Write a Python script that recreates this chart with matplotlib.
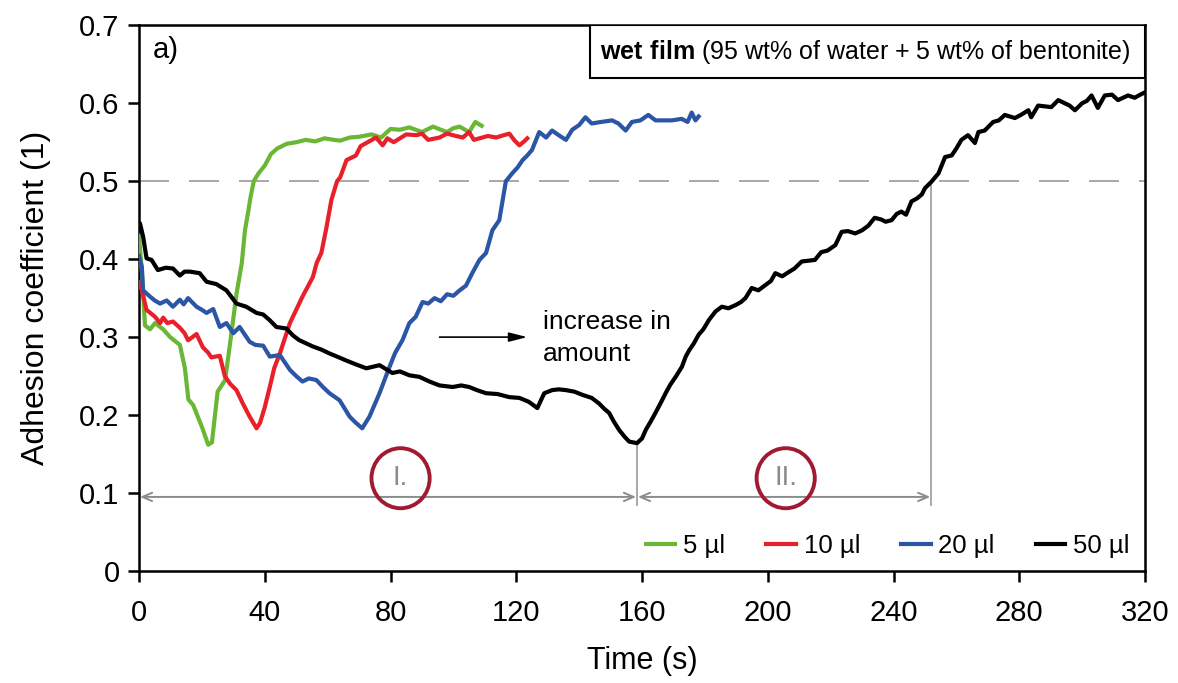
import numpy as np
import matplotlib
matplotlib.use('Agg')
import matplotlib.pyplot as plt
from matplotlib import font_manager
from matplotlib.patches import Ellipse, Rectangle

# --- data (time s, adhesion coefficient) ---
green_5ul = np.array([
    (0, 0.43), (0.9, 0.385), (1.9, 0.315), (3.5, 0.31), (5.1, 0.318), (7.7, 0.31),
    (9.9, 0.3), (13, 0.29), (14.6, 0.26), (15.7, 0.22), (17.2, 0.213), (20, 0.185),
    (22, 0.162), (23.2, 0.165), (25, 0.23), (27.4, 0.245), (29, 0.293), (31, 0.355),
    (32.7, 0.395), (33.7, 0.437), (34.7, 0.46), (35.5, 0.48), (36.5, 0.5), (38, 0.51),
    (40, 0.52), (42, 0.535), (44, 0.542), (47, 0.548), (50, 0.55), (53, 0.553),
    (56, 0.551), (59, 0.555), (62, 0.553), (64, 0.552), (67, 0.556), (70, 0.557),
    (74, 0.56), (77, 0.556), (80, 0.567), (83, 0.566), (86, 0.569), (90, 0.563),
    (93.5, 0.57), (96, 0.566), (98, 0.563), (100, 0.568), (102, 0.57), (105, 0.563),
    (107, 0.576), (109, 0.571)])

red_10ul = np.array([
    (0, 0.37), (0.9, 0.36), (2.4, 0.335), (5.1, 0.326), (6.7, 0.318), (7.7, 0.325),
    (9, 0.318), (10.8, 0.32), (13, 0.312), (14.5, 0.305), (15.6, 0.296), (17, 0.3),
    (18.3, 0.304), (20.3, 0.287), (22, 0.28), (23, 0.274), (25.7, 0.276), (27.3, 0.25),
    (29, 0.24), (31, 0.232), (33, 0.215), (35.2, 0.198), (37.4, 0.183), (38.5, 0.19),
    (40, 0.21), (41.6, 0.236), (43, 0.26), (44.8, 0.279), (48, 0.318), (50, 0.335),
    (52, 0.352), (55.3, 0.377), (56.5, 0.395), (58, 0.408), (59.6, 0.44), (61.2, 0.476),
    (63, 0.5), (64, 0.505), (66, 0.527), (67.5, 0.53), (69, 0.533), (70.5, 0.545),
    (72.3, 0.549), (75.4, 0.556), (77.5, 0.546), (79, 0.555), (81, 0.55), (83, 0.555),
    (85, 0.56), (88.3, 0.559), (90, 0.561), (92, 0.553), (95.6, 0.556), (98, 0.561),
    (100.8, 0.558), (103, 0.556), (105, 0.563), (106.5, 0.553), (108.3, 0.555),
    (111, 0.558), (113.6, 0.556), (116, 0.559), (117.8, 0.561), (119.5, 0.552),
    (121, 0.546), (122.5, 0.551), (123.5, 0.555)])

blue_20ul = np.array([
    (0, 0.404), (0.9, 0.39), (1.3, 0.36), (3.5, 0.352), (5, 0.347), (6.7, 0.343),
    (8.8, 0.347), (10.8, 0.339), (13, 0.348), (14.2, 0.342), (15.6, 0.35), (18.3, 0.339),
    (20, 0.335), (21.5, 0.331), (23.6, 0.336), (25.7, 0.313), (27.8, 0.318), (30, 0.305),
    (32, 0.313), (35.2, 0.294), (37, 0.29), (39.5, 0.289), (41.6, 0.275), (44.8, 0.277),
    (48, 0.258), (50, 0.25), (52, 0.243), (54, 0.247), (56.4, 0.245), (58.5, 0.236),
    (60.6, 0.228), (63.8, 0.219), (67, 0.198), (69, 0.19), (71, 0.183), (73.3, 0.198),
    (76.5, 0.228), (79.7, 0.262), (81.5, 0.28), (83.8, 0.296), (86, 0.318), (88, 0.326),
    (90.2, 0.345), (92, 0.343), (94, 0.35), (96, 0.346), (98, 0.355), (100, 0.353),
    (102, 0.36), (104, 0.366), (106, 0.382), (108.3, 0.399), (110.4, 0.408),
    (112.4, 0.437), (114.6, 0.45), (116.7, 0.5), (118.7, 0.51), (120.5, 0.518),
    (122, 0.527), (123.5, 0.533), (125, 0.54), (127.3, 0.563), (129.5, 0.556),
    (131.4, 0.565), (133.5, 0.559), (135.8, 0.553), (137.8, 0.566), (140, 0.572),
    (142, 0.582), (144, 0.574), (147, 0.576), (150.5, 0.578), (152.5, 0.574),
    (154.8, 0.565), (156.8, 0.576), (159.5, 0.578), (162, 0.585), (164.3, 0.578),
    (167, 0.578), (169.5, 0.578), (172.6, 0.58), (174.5, 0.576), (175.8, 0.588),
    (177, 0.578), (178, 0.583)])

black_50ul = np.array([
    (0, 0.44), (0.3, 0.446), (1.3, 0.429), (2.4, 0.401), (4, 0.399), (6, 0.386),
    (8.5, 0.389), (10.8, 0.388), (13, 0.379), (14.5, 0.384), (16.2, 0.384), (19.3, 0.382),
    (21.5, 0.371), (24.6, 0.368), (27.8, 0.36), (31, 0.343), (34.1, 0.339), (37.4, 0.331),
    (39.5, 0.329), (41.5, 0.322), (43.7, 0.313), (46.9, 0.311), (49, 0.302), (51, 0.296),
    (55.3, 0.288), (58, 0.284), (60.6, 0.279), (63, 0.275), (65.9, 0.27), (69, 0.265),
    (72.3, 0.26), (76.5, 0.264), (80.6, 0.254), (83, 0.256), (86, 0.251), (89.2, 0.249),
    (92.4, 0.243), (95.6, 0.238), (99.8, 0.236), (102.5, 0.238), (105, 0.236),
    (107.5, 0.232), (110.4, 0.228), (114, 0.227), (117.8, 0.223), (121, 0.222),
    (124, 0.217), (126.7, 0.209), (128.9, 0.228), (131.4, 0.232), (133.5, 0.233),
    (135.8, 0.232), (138.5, 0.23), (141, 0.226), (144, 0.222), (146.3, 0.215),
    (148, 0.208), (149.5, 0.203), (151, 0.192), (152.7, 0.181), (154.5, 0.172),
    (155.9, 0.166), (158.4, 0.164), (160, 0.17), (161.2, 0.181), (162.8, 0.192),
    (164.3, 0.203), (166, 0.216), (167.5, 0.228), (169, 0.239), (170.7, 0.249),
    (172.7, 0.262), (173.9, 0.275), (175, 0.283), (176.5, 0.292), (178, 0.303),
    (179.5, 0.31), (181.3, 0.322), (183.4, 0.333), (185.4, 0.339), (187.5, 0.337),
    (189.7, 0.341), (191.5, 0.345), (192.9, 0.35), (194.9, 0.363), (197, 0.36),
    (199.3, 0.367), (201, 0.372), (202.4, 0.382), (204.6, 0.378), (206.5, 0.383),
    (208.5, 0.388), (210.8, 0.397), (213, 0.398), (215, 0.399), (217, 0.409),
    (219, 0.411), (221.5, 0.418), (223.5, 0.435), (225.5, 0.436), (227.8, 0.433),
    (230, 0.437), (232, 0.443), (234, 0.453), (236, 0.451), (237.5, 0.448),
    (239.4, 0.45), (241, 0.458), (242.5, 0.461), (244, 0.457), (245.7, 0.474),
    (247.5, 0.478), (249, 0.483), (250, 0.491), (252, 0.499), (254.3, 0.51),
    (256.4, 0.531), (258.5, 0.533), (260, 0.542), (261.6, 0.553), (263.7, 0.559),
    (265.9, 0.549), (267, 0.563), (269, 0.565), (271.7, 0.576), (273.5, 0.578),
    (275.4, 0.585), (277, 0.583), (278.6, 0.581), (280.5, 0.585), (282.9, 0.591),
    (283.8, 0.582), (286, 0.597), (288, 0.596), (290.2, 0.595), (292.4, 0.604),
    (294.5, 0.6), (296, 0.597), (297.7, 0.591), (300, 0.6), (301.5, 0.603),
    (303, 0.61), (305, 0.594), (307.2, 0.61), (309.5, 0.611), (311.4, 0.604),
    (313, 0.607), (314.6, 0.61), (316.7, 0.607), (318.5, 0.611), (320, 0.614)])

series_labels = ['5 µl', '10 µl', '20 µl', '50 µl']
series_colors = ['#6ab735', '#e8202a', '#2a56a5', '#000000']

x_ticks = [0, 40, 80, 120, 160, 200, 240, 280, 320]
y_ticks = [0, 0.1, 0.2, 0.3, 0.4, 0.5, 0.6, 0.7]
y_ticklabels = ['0', '0.1', '0.2', '0.3', '0.4', '0.5', '0.6', '0.7']

threshold = 0.5
phase_bounds = [0, 158.4, 252]   # start, end of phase I, end of phase II
phase_names = ['I.', 'II.']
phase_mid = [83.2, 205.7]
phase_arrow_y = 0.095

# --- fonts: narrow Arial look if available ---
installed = {f.name for f in font_manager.fontManager.ttflist}
if 'Liberation Sans Narrow' in installed:
    fam, big, ylab, small = 'Liberation Sans Narrow', 25, 25, 22
else:
    fam, big, ylab, small = 'Liberation Sans', 21, 23, 18
plt.rcParams['font.family'] = [fam, 'DejaVu Sans']
plt.rcParams['mathtext.fontset'] = 'custom'
plt.rcParams['mathtext.rm'] = fam
plt.rcParams['mathtext.bf'] = fam + ':bold'

fig = plt.figure(figsize=(11.78, 6.83), dpi=100)
ax = fig.add_axes([0.118, 0.164, 0.854, 0.799])

all_series = [green_5ul, red_10ul, blue_20ul, black_50ul]
for data, lab, col in zip(all_series, series_labels, series_colors):
    ax.plot(data[:, 0], data[:, 1], color=col, lw=3.0, label=lab, zorder=3,
            solid_joinstyle='round')

# 0.5 threshold line
ax.axhline(threshold, color='#9a9a9a', lw=1.2, dashes=(18, 12), zorder=1)

# phase boundaries
black_min = black_50ul[np.argmin(black_50ul[:, 1]), 1]
ax.plot([phase_bounds[1], phase_bounds[1]], [0.085, black_min], color='#9a9a9a', lw=1.2, zorder=1)
ax.plot([phase_bounds[2], phase_bounds[2]], [0.085, threshold], color='#9a9a9a', lw=1.2, zorder=1)

for i in range(2):
    a, b = phase_bounds[i], phase_bounds[i + 1]
    ax.annotate('', xy=(b - 0.3, phase_arrow_y), xytext=(a + 0.3, phase_arrow_y),
                arrowprops=dict(arrowstyle='<->,head_length=0.7,head_width=0.3',
                                color='#8c8c8c', lw=1.4, shrinkA=0, shrinkB=0))
    ax.text(phase_mid[i], 0.119, phase_names[i], color='#8c8c8c', fontsize=small + 2,
            ha='center', va='center')
    ax.add_patch(Ellipse((phase_mid[i], 0.119), 18.5, 0.077, fill=False,
                         ec='#a11a33', lw=2.8, zorder=4))

# "increase in amount" arrow
ax.annotate('', xy=(123.5, 0.30), xytext=(95.6, 0.30),
            arrowprops=dict(arrowstyle='-|>,head_length=1.1,head_width=0.28',
                            color='black', lw=1.2, shrinkA=0, shrinkB=0))
ax.text(128.5, 0.299, 'increase in\namount', fontsize=small + 1, ha='left', va='center',
        linespacing=1.4)

ax.text(0.014, 0.955, 'a)', transform=ax.transAxes, fontsize=big, ha='left', va='center')

# title box top right
ax.add_patch(Rectangle((0.448, 0.903), 0.552, 0.097, transform=ax.transAxes,
                       fill=True, fc='white', ec='black', lw=1.5, zorder=5))
ax.text(0.458, 0.951, r'$\mathbf{wet\ film}$ (95 wt% of water + 5 wt% of bentonite)',
        transform=ax.transAxes, fontsize=small, ha='left', va='center', zorder=6)

ax.set_xlim(0, 320)
ax.set_ylim(0, 0.7)
ax.set_xticks(x_ticks)
ax.set_yticks(y_ticks)
ax.set_yticklabels(y_ticklabels)
ax.tick_params(direction='out', length=8, width=1.8, labelsize=big)
ax.tick_params(axis='x', pad=12)
ax.tick_params(axis='y', pad=6)
for s in ax.spines.values():
    s.set_linewidth(1.8)
ax.set_xlabel('Time (s)', fontsize=big + 1, labelpad=14)
ax.set_ylabel('Adhesion coefficient (1)', fontsize=ylab, labelpad=20)

ax.legend(loc='center right', bbox_to_anchor=(0.995, 0.045), ncol=4, frameon=False,
          fontsize=small + 0.5, handlelength=1.15, handletextpad=0.3, columnspacing=1.6,
          borderaxespad=0)

fig.savefig('out.png', dpi=100)
